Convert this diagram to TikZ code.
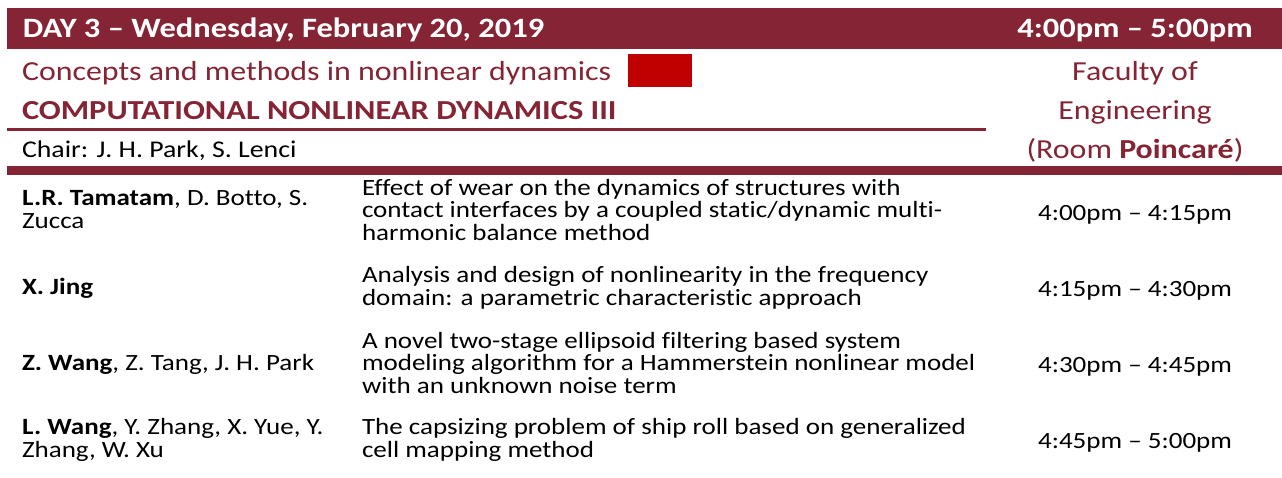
\documentclass[tikz,border=0pt]{standalone}
\usepackage{fontspec}
\setmainfont{Carlito}[Ligatures=NoCommon]
\definecolor{maroon}{HTML}{842434}
\definecolor{boxred}{HTML}{C00000}
\newcommand\hs[1]{\scalebox{1.16}[1]{#1}}
\newcommand\lft[1]{\hs{\begin{tabular}[t]{@{}l@{}}#1\end{tabular}}}
\newcommand\ctr[1]{\hs{\begin{tabular}[t]{@{}c@{}}#1\end{tabular}}}
\begin{document}
\begin{tikzpicture}[x=1pt,y=-1pt,
  every node/.style={inner sep=0pt,outer sep=0pt},
  hdr/.style={text=white,font=\fontsize{28}{30}\selectfont\bfseries},
  sub/.style={text=maroon,font=\fontsize{27.5}{39}\selectfont},
  chair/.style={text=black,font=\fontsize{24}{26}\selectfont},
  body/.style={text=black,font=\fontsize{23.3}{22.6}\selectfont,anchor=base west},
  tm/.style={text=black,font=\fontsize{23.3}{22.6}\selectfont,anchor=base}]
\useasboundingbox (0,0) rectangle (1282,477);
% header bar
\fill[maroon] (7,7.5) rectangle (1282,49);
\node[hdr,anchor=base west] (day) at (23,37) {\hs{DAY 3 – Wednesday, February 20, 2019}};
\node[hdr,anchor=base] (slot) at (1135,37) {\hs{4:00pm – 5:00pm}};
% session title
\node[sub,anchor=base west] (topic) at (22,80) {\hs{Concepts and methods in nonlinear dynamics}};
\fill[boxred] (628,54) rectangle (692,87);
\node[sub,anchor=base west,font=\fontsize{27.5}{39}\selectfont\bfseries] (session) at (22,119) {\scalebox{1.18}[1]{COMPUTATIONAL NONLINEAR DYNAMICS III}};
\draw[maroon,line width=3pt] (7,129.5) -- (986,129.5);
\node[chair,anchor=base west] (chair) at (22,157) {\hs{Chair: J. H. Park, S. Lenci}};
\node[sub,anchor=base] (room) at (1135,80) {\ctr{Faculty of\\Engineering\\(Room \textbf{Poincaré})}};
\fill[maroon] (7,166) rectangle (1282,175);
% row 1
\node[body] (a1) at (22,205.5) {\lft{\textbf{L.R. Tamatam}, D. Botto, S.\\Zucca}};
\node[body] (t1) at (362,195) {\lft{Effect of wear on the dynamics of structures with\\contact interfaces by a coupled static/dynamic multi-\\harmonic balance method}};
\node[tm] (h1) at (1135,220) {\hs{4:00pm – 4:15pm}};
% row 2
\node[body] (a2) at (22,294.5) {\lft{\textbf{X. Jing}}};
\node[body] (t2) at (362,282.5) {\lft{Analysis and design of nonlinearity in the frequency\\domain: a parametric characteristic approach}};
\node[tm] (h2) at (1135,296) {\hs{4:15pm – 4:30pm}};
% row 3
\node[body] (a3) at (22,370.5) {\lft{\textbf{Z. Wang}, Z. Tang, J. H. Park}};
\node[body] (t3) at (362,348) {\lft{A novel two-stage ellipsoid filtering based system\\modeling algorithm for a Hammerstein nonlinear model\\with an unknown noise term}};
\node[tm] (h3) at (1135,372) {\hs{4:30pm – 4:45pm}};
% row 4
\node[body] (a4) at (22,434.5) {\lft{\textbf{L. Wang}, Y. Zhang, X. Yue, Y.\\Zhang, W. Xu}};
\node[body] (t4) at (362,434.5) {\lft{The capsizing problem of ship roll based on generalized\\cell mapping method}};
\node[tm] (h4) at (1135,448) {\hs{4:45pm – 5:00pm}};
\end{tikzpicture}
\end{document}
